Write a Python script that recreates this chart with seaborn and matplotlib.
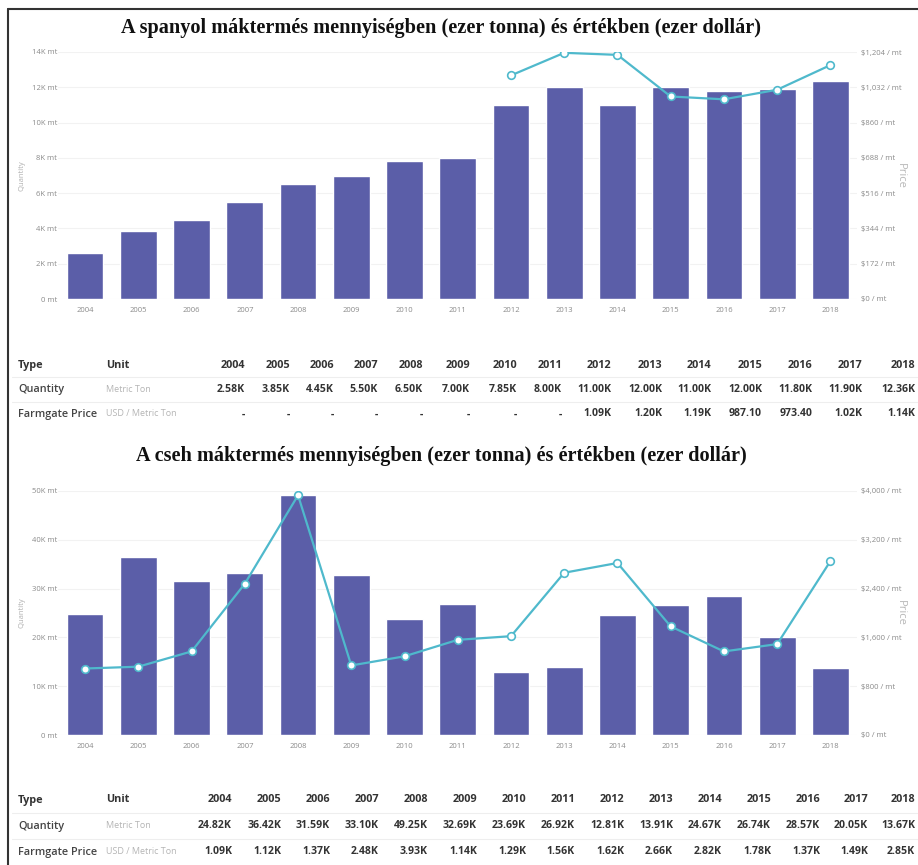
import numpy as np
import pandas as pd
import matplotlib
matplotlib.use("Agg")
import matplotlib.pyplot as plt
import seaborn as sns
from matplotlib.ticker import FixedLocator, FuncFormatter
from matplotlib.lines import Line2D

# ---------------- data ----------------
years = [str(y) for y in range(2004, 2019)]

es_quantity = [2580, 3850, 4450, 5500, 6500, 7000, 7850, 8000,
               11000, 12000, 11000, 12000, 11800, 11900, 12360]
es_price = [np.nan, np.nan, np.nan, np.nan, np.nan, np.nan, np.nan, np.nan,
            1090, 1200, 1190, 987.10, 973.40, 1020, 1140]

cz_quantity = [24820, 36420, 31590, 33100, 49250, 32690, 23690, 26920,
               12810, 13910, 24670, 26740, 28570, 20050, 13670]
cz_price = [1090, 1120, 1370, 2480, 3930, 1140, 1290, 1560,
            1620, 2660, 2820, 1780, 1370, 1490, 2850]

title_es = "A spanyol máktermés mennyiségben (ezer tonna) és értékben (ezer dollár)"
title_cz = "A cseh máktermés mennyiségben (ezer tonna) és értékben (ezer dollár)"

q_ticks_es = [0, 2000, 4000, 6000, 8000, 10000, 12000, 14000]
p_ticks_es = [0, 172, 344, 516, 688, 860, 1032, 1204]
q_ticks_cz = [0, 10000, 20000, 30000, 40000, 50000]
p_ticks_cz = [0, 800, 1600, 2400, 3200, 4000]

row_types = ["Quantity", "Farmgate Price"]
row_units = ["Metric Ton", "USD / Metric Ton"]

# ---------------- style ----------------
sns.set_theme(style="white")
plt.rcParams['font.family'] = ['Open Sans', 'DejaVu Sans']

W, H = 918, 865
BAR = "#5b5ea8"
LINE = "#4fb9cc"
TICK = "#8a8a8a"

fig = plt.figure(figsize=(W / 100, H / 100), dpi=100)
fig.patch.set_facecolor("white")


def fx(px):
    return px / W


def fy(py):
    return 1 - py / H


def qfmt(v, _):
    return "0 mt" if v == 0 else f"{v/1000:.0f}K mt"


def pfmt(v, _):
    return f"${v:,.0f} / mt"


def panel(top_px, bot_px, q, p, qt, pt, title, title_y):
    left_px, right_px = 58.5, 857.0
    ax = fig.add_axes([fx(left_px), fy(bot_px), (right_px - left_px) / W,
                       (bot_px - top_px) / H])
    df = pd.DataFrame({"year": years, "q": q, "p": p,
                       "pos": np.arange(len(years))})
    sns.barplot(data=df, x="year", y="q", color=BAR, saturation=1,
                width=0.69, ax=ax)
    ax.set_ylim(qt[0], qt[-1])
    ax.yaxis.set_major_locator(FixedLocator(qt))
    ax.yaxis.set_major_formatter(FuncFormatter(qfmt))
    ax.grid(axis="y", color="#f2f2f2", lw=0.8)
    ax.set_axisbelow(True)
    ax.set_xlabel("")
    ax.set_ylabel("Quantity", fontsize=5.5, color="#b0b0b0")
    ax.yaxis.set_label_coords((26 - left_px) / (right_px - left_px), 0.5)
    ax.tick_params(axis="y", length=0, pad=1, labelsize=5.5, labelcolor=TICK)
    ax.tick_params(axis="x", length=0, pad=6, labelsize=5.5, labelcolor=TICK)
    for s in ax.spines.values():
        s.set_visible(False)

    ax2 = ax.twinx()
    sns.lineplot(data=df, x="pos", y="p", color=LINE, lw=1.6, marker="o",
                 markersize=5.5, markerfacecolor="white",
                 markeredgecolor=LINE, markeredgewidth=1.2, ax=ax2)
    ax2.set_ylim(pt[0], pt[-1])
    ax2.set_xlim(-0.5, len(years) - 0.5)
    ax.set_xlim(-0.5, len(years) - 0.5)
    ax2.yaxis.set_major_locator(FixedLocator(pt))
    ax2.yaxis.set_major_formatter(FuncFormatter(pfmt))
    ax2.tick_params(axis="y", length=0, pad=3, labelsize=5.5, labelcolor=TICK)
    ax2.set_ylabel("Price", fontsize=8, color="#b8b8b8", rotation=270)
    ax2.yaxis.set_label_coords((906 - left_px) / (right_px - left_px), 0.5)
    ax2.set_xlabel("")
    for s in ax2.spines.values():
        s.set_visible(False)
    ax2.grid(False)

    fig.text(fx(441), fy(title_y), title, ha="center", va="center",
             family="Liberation Serif", weight="bold", size=14.6,
             color="#111111")


def fmt_val(v):
    if v is None or (isinstance(v, float) and np.isnan(v)):
        return "-"
    if v >= 1000:
        return f"{v/1000:.2f}K"
    return f"{v:.2f}"


def table(rows_y, rights, q, p):
    hy, qy, py = rows_y
    fig.text(fx(18), fy(hy), "Type", ha="left", va="center", size=7.8,
             weight="bold", color="#333333")
    fig.text(fx(106), fy(hy), "Unit", ha="left", va="center", size=7.8,
             weight="bold", color="#333333")
    for yr, r in zip(years, rights):
        fig.text(fx(r), fy(hy), yr, ha="right", va="center", size=7.8,
                 weight="bold", color="#333333")
    for (ty, unit, vals, yy) in [(row_types[0], row_units[0], q, qy),
                                 (row_types[1], row_units[1], p, py)]:
        fig.text(fx(18), fy(yy), ty, ha="left", va="center", size=7.8,
                 weight="semibold", color="#444444")
        fig.text(fx(106), fy(yy), unit, ha="left", va="center", size=6.5,
                 color="#b5b5b5")
        for v, r in zip(vals, rights):
            fig.text(fx(r), fy(yy), fmt_val(v), ha="right", va="center",
                     size=7.6, weight="bold", color="#333333")
    for sy in [(hy + qy) / 2, (qy + py) / 2]:
        fig.add_artist(Line2D([fx(12), 1], [fy(sy), fy(sy)],
                              transform=fig.transFigure, color="#eeeeee",
                              lw=0.8))


panel(52, 299, es_quantity, es_price, q_ticks_es, p_ticks_es, title_es, 28)
panel(491, 735, cz_quantity, cz_price, q_ticks_cz, p_ticks_cz, title_cz, 456)

rights_es = [245, 290, 334, 378, 423, 470, 517, 562, 611, 662, 711, 762,
             812, 862, 915]
rights_cz = [232, 281, 330, 379, 428, 477, 526, 575, 624, 673, 722, 771,
             820, 868, 915]
table((365, 389, 414), rights_es, es_quantity, es_price)
table((800, 826, 852), rights_cz, cz_quantity, cz_price)

# frame lines (left and top)
fig.add_artist(Line2D([fx(8), fx(8)], [0, fy(9)], transform=fig.transFigure,
                      color="#333333", lw=1.5))
fig.add_artist(Line2D([fx(8), 1], [fy(9), fy(9)], transform=fig.transFigure,
                      color="#333333", lw=1.5))

fig.savefig("out.png", dpi=100, facecolor="white")
